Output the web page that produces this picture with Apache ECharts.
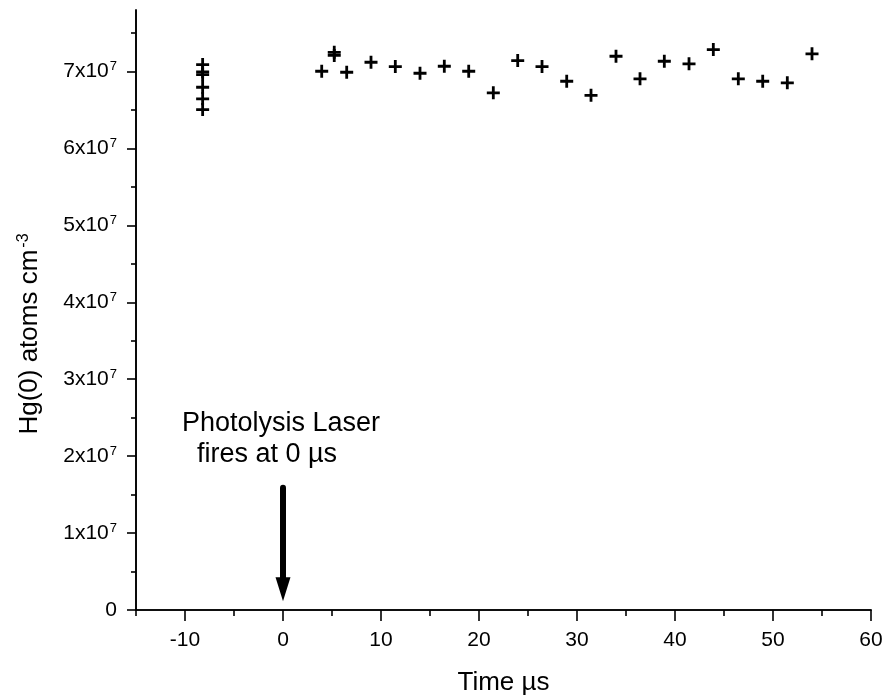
<!DOCTYPE html>
<html>
<head>
<meta charset="utf-8">
<script src="https://cdn.jsdelivr.net/npm/echarts@6/dist/echarts.min.js"></script>
<style>html,body{margin:0;padding:0;background:#fff;}#c{width:883px;height:697px;}</style>
</head>
<body>
<div id="c"></div>
<script>
// Pre-trigger cluster (time µs, Hg(0) in units of 1e7 atoms cm^-3)
const preTime = [-8.2, -8.2, -8.2, -8.2, -8.2, -8.2];
const preHg = [7.091, 6.996, 6.961, 6.796, 6.645, 6.505];
// Post-trigger measurements
const postTime = [3.95, 5.23, 5.23, 6.5, 8.98, 11.46, 13.98, 16.46, 18.95, 21.46, 23.95, 26.43, 28.95, 31.43, 33.98, 36.43, 38.91, 41.43, 43.91, 46.46, 48.95, 51.46, 53.98];
const postHg = [7.004, 7.25, 7.21, 6.991, 7.121, 7.065, 6.978, 7.069, 7.004, 6.723, 7.143, 7.065, 6.874, 6.691, 7.199, 6.905, 7.134, 7.100, 7.286, 6.905, 6.874, 6.853, 7.230];
// Axis ticks
const xMajorTicks = [-10, 0, 10, 20, 30, 40, 50, 60];
const xMinorTicks = [-15, -5, 5, 15, 25, 35, 45, 55];
const yMajorTicks = [0, 1, 2, 3, 4, 5, 6, 7];
const yMinorTicks = [0.5, 1.5, 2.5, 3.5, 4.5, 5.5, 6.5, 7.5];
// Laser arrow (time, top, head centre)
const arrowTime = 0;
const arrowTop = 1.59;
const arrowTip = 0.27;

const FONT = 'Liberation Sans, Arial, sans-serif';
const plus = 'path://M5.1,0H7.9V5.1H13V7.9H7.9V13H5.1V7.9H0V5.1H5.1Z';

const chart = echarts.init(document.getElementById('c'), null, {renderer: 'canvas'});
const axisLineStyle = {color: '#000', width: 1.6};
const xBase = {type: 'value', min: -15, max: 60, position: 'bottom', splitLine: {show: false},
  axisLine: {show: true, onZero: false, lineStyle: axisLineStyle}};
const yBase = {type: 'value', min: 0, max: 7.8, position: 'left', splitLine: {show: false},
  axisLine: {show: true, onZero: false, lineStyle: axisLineStyle}};

chart.setOption({
  animation: false,
  backgroundColor: '#fff',
  grid: {left: 136, right: 12, top: 10, bottom: 87, containLabel: false, outerBoundsMode: 'none'},
  xAxis: [
    Object.assign({}, xBase, {
      name: 'Time µs', nameLocation: 'middle', nameGap: 60,
      nameTextStyle: {fontFamily: FONT, fontSize: 26, color: '#000'},
      axisTick: {show: true, inside: false, length: 11, customValues: xMajorTicks, lineStyle: {color: '#000', width: 1.6}},
      axisLabel: {show: true, margin: 20, customValues: xMajorTicks, fontFamily: FONT, fontSize: 21, color: '#000'}
    }),
    Object.assign({}, xBase, {
      axisTick: {show: true, length: 6, customValues: xMinorTicks, lineStyle: {color: '#000', width: 1.6}},
      axisLabel: {show: false}
    })
  ],
  yAxis: [
    Object.assign({}, yBase, {
      axisTick: {show: true, length: 9, customValues: yMajorTicks, lineStyle: {color: '#000', width: 1.6}},
      axisLabel: {
        show: true, margin: 19, customValues: yMajorTicks, color: '#000',
        formatter: function (v) { return v === 0 ? '{a|0}' : '{a|' + v + 'x10}{s|7}'; },
        rich: {
          a: {fontFamily: FONT, fontSize: 21, color: '#000'},
          s: {fontFamily: FONT, fontSize: 13, color: '#000', verticalAlign: 'top', padding: [0, 0, 10, 1]}
        }
      }
    }),
    Object.assign({}, yBase, {
      axisTick: {show: true, length: 5, customValues: yMinorTicks, lineStyle: {color: '#000', width: 1.6}},
      axisLabel: {show: false}
    })
  ],
  graphic: [
    {type: 'text', x: 30, y: 334, rotation: Math.PI / 2,
      style: {text: '{t|Hg(0) atoms cm}{s|-3}', align: 'center', verticalAlign: 'middle',
        rich: {t: {fontFamily: FONT, fontSize: 26, fill: '#000'},
               s: {fontFamily: FONT, fontSize: 16, fill: '#000', verticalAlign: 'top', padding: [0, 0, 13, 2]}}}},
    {type: 'text', x: 182, y: 424, style: {text: 'Photolysis Laser', fontFamily: FONT, fontSize: 27, fill: '#000', align: 'left', verticalAlign: 'middle'}},
    {type: 'text', x: 197, y: 455, style: {text: 'fires at 0 µs', fontFamily: FONT, fontSize: 27, fill: '#000', align: 'left', verticalAlign: 'middle'}}
  ],
  series: [
    {
      type: 'scatter', xAxisIndex: 0, yAxisIndex: 0,
      data: preTime.map((t, i) => [t, preHg[i]]),
      symbol: plus, symbolSize: [13, 13], itemStyle: {color: '#000', opacity: 1}, silent: true
    },
    {
      type: 'scatter', xAxisIndex: 0, yAxisIndex: 0,
      data: postTime.map((t, i) => [t, postHg[i]]),
      symbol: plus, symbolSize: [13, 13], itemStyle: {color: '#000', opacity: 1}, silent: true,
      markLine: {
        silent: true, animation: false,
        symbol: ['none', 'triangle'], symbolSize: [15, 24],
        label: {show: false},
        lineStyle: {color: '#000', width: 6, type: 'solid', cap: 'round', opacity: 1},
        data: [[{coord: [arrowTime, arrowTop]}, {coord: [arrowTime, arrowTip]}]]
      }
    }
  ]
});
</script>
</body>
</html>
